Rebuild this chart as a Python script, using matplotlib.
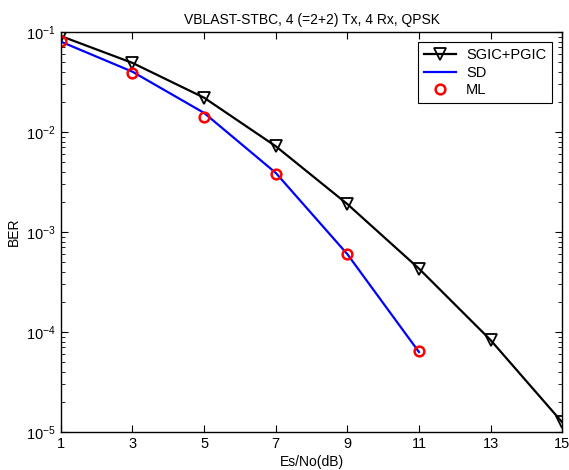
import numpy as np
import matplotlib.pyplot as plt

plt.rcParams['font.family'] = ['Liberation Sans', 'DejaVu Sans']

snr = [1, 3, 5, 7, 9, 11, 13, 15]
ber_sgic = [0.091, 0.049, 0.022, 0.0072, 0.0019, 0.00043, 8.3e-5, 1.25e-5]
snr_sd = [1, 3, 5, 7, 9, 11]
ber_sd = [0.080, 0.040, 0.0155, 0.0039, 0.00060, 6.3e-5]
ber_ml = [0.081, 0.039, 0.0142, 0.0038, 0.00060, 6.5e-5]

fig = plt.figure(figsize=(5.69, 4.70), dpi=100)
ax = fig.add_axes([0.107, 0.081, 0.881, 0.851])

ax.semilogy(snr, ber_sgic, 'k-v', lw=1.6, markersize=8, markerfacecolor='none',
            markeredgewidth=1.3, label='SGIC+PGIC')
ax.semilogy(snr_sd, ber_sd, 'b-', lw=1.6, label='SD')
ax.semilogy(snr_sd, ber_ml, 'o', color='red', markersize=7, markerfacecolor='none',
            markeredgewidth=1.8, label='ML')

ax.set_xlim(1, 15)
ax.set_ylim(1e-5, 1e-1)
ax.set_xticks(snr)
ax.tick_params(which='both', direction='in', top=True, right=True, labelsize=10.5)
ax.tick_params(which='major', length=5)
ax.tick_params(which='minor', length=3)
for s in ax.spines.values():
    s.set_linewidth(1.0)

ax.set_title('VBLAST-STBC, 4 (=2+2) Tx, 4 Rx, QPSK', fontsize=10)
ax.set_xlabel('Es/No(dB)', fontsize=10, labelpad=3)
ax.set_ylabel('BER', fontsize=10)

leg = ax.legend(loc='upper right', fontsize=10.5, fancybox=False, edgecolor='black',
                framealpha=1, handlelength=2.2, handletextpad=0.7,
                labelspacing=0.25, borderaxespad=0.7)
leg.get_frame().set_linewidth(0.8)

fig.savefig('out.png', dpi=100)
